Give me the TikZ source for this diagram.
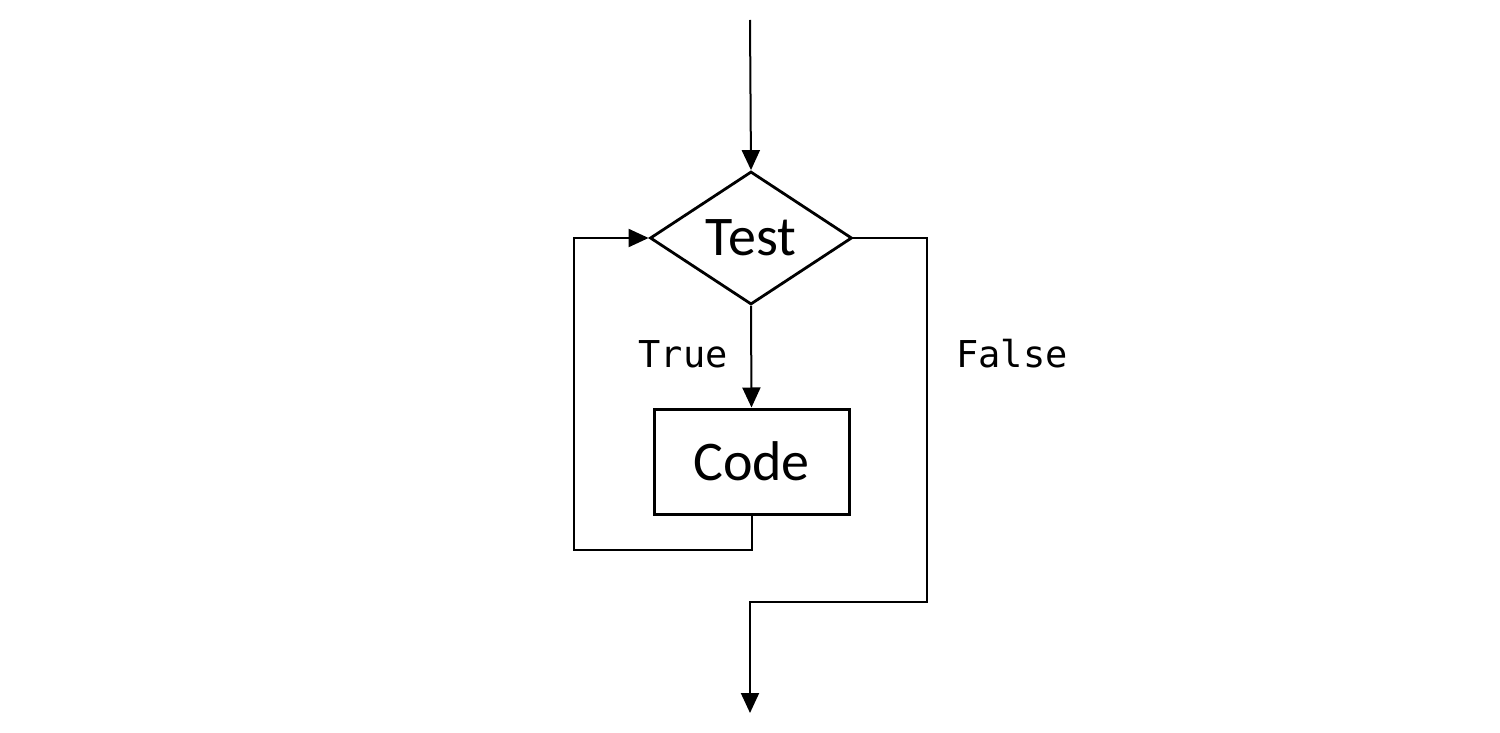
\documentclass[tikz,border=0pt]{standalone}
\usepackage{fontspec}
\setmainfont{Carlito}
\newfontfamily\codefont{DejaVu Sans Mono}
\usetikzlibrary{shapes.geometric,arrows.meta}
\begin{document}
\begin{tikzpicture}[x=0.5pt,y=-0.5pt,
  line width=1pt,
  arr/.style={-{Triangle[length=10pt,width=9pt]}},
  decision/.style={diamond,draw,line width=1.4pt,inner sep=0pt,minimum width=101pt,minimum height=66.5pt,font=\fontsize{28}{30}\selectfont},
  process/.style={rectangle,draw,line width=1.5pt,inner sep=0pt,minimum width=97.5pt,minimum height=52.5pt,font=\fontsize{28}{30}\selectfont},
  lbl/.style={font=\codefont\fontsize{18.5}{20}\selectfont,inner sep=0pt}]
\useasboundingbox (0,0) rectangle (1500,733);
\node[decision] (test) at (751,238) {Test};
\node[process] (code) at (751.5,461.5) {Code};
\node[lbl] (t) at (683,354) {True};
\node[lbl] (f) at (1012,354) {False};
\coordinate (start) at (750,20);
\coordinate (stop) at (750,713);
\coordinate (loopl) at (574,550);
\coordinate (fr) at (927,602);
\coordinate (fm) at (750,602);
\draw[arr] (start) -- (test.north);
\draw[arr] (test.south) -- (code.north);
\draw[arr] (code.south) |- (loopl) |- (test.west);
\draw[arr] (test.east) -| (fr) -- (fm) -- (stop);
\end{tikzpicture}
\end{document}
